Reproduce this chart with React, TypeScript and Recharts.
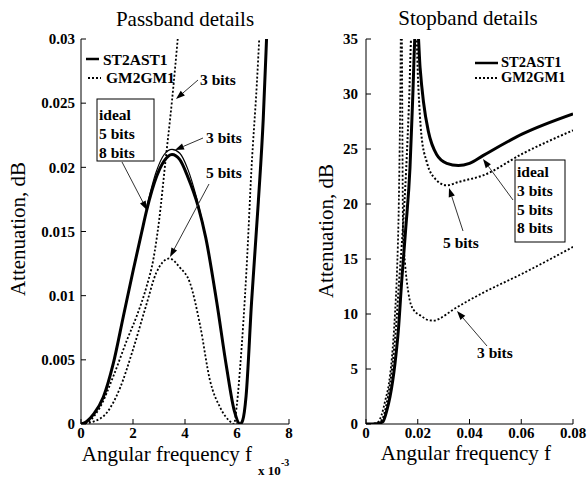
import { LineChart, Line, XAxis, YAxis } from 'recharts'

// each row is [angular frequency, attenuation dB]
// passband: frequency in units of 1e-3
const passIdeal = [
  [0, 0], [0.22, 0.0002], [0.5, 0.0008], [0.86, 0.0021], [1.24, 0.0047], [1.63, 0.0084],
  [2.01, 0.012], [2.33, 0.0149], [2.52, 0.0166], [2.91, 0.0193], [3.2, 0.0205], [3.5, 0.021],
  [3.8, 0.0206], [4.1, 0.0193], [4.5, 0.017], [4.8, 0.0145], [5.22, 0.0095], [5.6, 0.0044],
  [5.9, 0.001], [6.12, 0], [6.22, 0.0003], [6.35, 0.0022], [6.56, 0.0095], [6.82, 0.0173],
  [7.01, 0.0238], [7.14, 0.0302], [7.25, 0.036],
]
const passST3 = [
  [2.5, 0.0167], [2.9, 0.0197], [3.2, 0.021], [3.5, 0.0214], [3.8, 0.0211], [4.1, 0.0199],
  [4.45, 0.0176], [4.7, 0.0155],
]
const passGM3 = [
  [0, 0], [0.3, 0.0002], [0.73, 0.0013], [1.24, 0.0037], [1.76, 0.0065], [2.14, 0.0084],
  [2.52, 0.0107], [2.78, 0.0128], [3.0, 0.0158], [3.25, 0.0205], [3.5, 0.0252], [3.72, 0.03],
  [3.85, 0.033],
]
const passGM5 = [
  [0, 0], [0.5, 0.0002], [1.0, 0.0009], [1.5, 0.0028], [2.0, 0.0058], [2.5, 0.0092],
  [2.9, 0.0118], [3.4, 0.0129], [3.8, 0.0122], [4.19, 0.011], [4.58, 0.0077], [4.96, 0.0034],
  [5.35, 0.0013], [5.73, 0.0002], [5.88, 0], [6.0, 0.0016], [6.12, 0.0044], [6.37, 0.0122],
  [6.56, 0.02], [6.76, 0.0264], [6.88, 0.031],
]

// stopband: frequency as is
const stopST = [
  [0, 0], [0.004, 0.02], [0.0065, 0.2], [0.008, 1.2], [0.0093, 2.5], [0.0112, 5.5],
  [0.0125, 8.5], [0.0138, 13], [0.0153, 17.6], [0.017, 23.3], [0.018, 29.3], [0.0192, 36],
  [0.0199, 36], [0.0209, 32.4], [0.0222, 29.3], [0.0241, 26.6], [0.0273, 24.5], [0.0312, 23.7],
  [0.0357, 23.5], [0.04, 23.7], [0.0452, 24.4], [0.0607, 26.4], [0.08, 28.2],
]
const stopGM = [
  [0, 0], [0.004, 0.02], [0.0055, 0.15], [0.0085, 2.5], [0.0103, 5.5], [0.0115, 8.5],
  [0.0128, 13], [0.0142, 17.6], [0.0155, 23], [0.0166, 29], [0.0177, 36], [0.0193, 36],
  [0.0202, 30.8], [0.0214, 26.3], [0.0235, 23.8], [0.0267, 22.3], [0.0312, 21.7], [0.0357, 22.0],
  [0.0452, 22.6], [0.0607, 24.6], [0.08, 26.7],
]
const stopGM3 = [
  [0, 0], [0.003, 0.02], [0.0045, 0.15], [0.006, 0.8], [0.0075, 2.2], [0.0088, 3.6],
  [0.01, 6], [0.0112, 10], [0.012, 14], [0.0126, 19], [0.013, 25], [0.0133, 31], [0.0135, 36],
  [0.0138, 36], [0.0141, 25], [0.0143, 17.6], [0.0151, 14.6], [0.0164, 11.9], [0.0183, 10.4],
  [0.0215, 9.8], [0.024, 9.45], [0.0265, 9.4], [0.0286, 9.6], [0.0337, 10.4], [0.045, 11.9],
  [0.0607, 13.7], [0.08, 16.1],
]

const passXTicks = [0, 2, 4, 6, 8]
const passYTicks = [0, 0.005, 0.01, 0.015, 0.02, 0.025, 0.03]
const stopXTicks = [0, 0.02, 0.04, 0.06, 0.08]
const stopYTicks = [0, 5, 10, 15, 20, 25, 30, 35]

const FONT = "'Liberation Serif', 'DejaVu Serif', serif"
const tickStyle = { style: { fontFamily: FONT }, fontSize: 15, fontWeight: 700, fill: '#000' }

const toPts = (rows: number[][]) => rows.map(([f, v]) => ({ f, v }))

type SeriesDef = { data: number[][]; width: number; dash?: string }

function Panel({ left, width, margin, xTicks, yTicks, yMargin, series }: {
  left: number
  width: number
  margin: { top: number; right: number; bottom: number; left: number }
  xTicks: number[]
  yTicks: number[]
  yMargin: number
  series: SeriesDef[]
}) {
  const xDomain: [number, number] = [xTicks[0], xTicks[xTicks.length - 1]]
  const yDomain: [number, number] = [yTicks[0], yTicks[yTicks.length - 1]]
  return (
    <div style={{ position: 'absolute', left, top: 0, fontFamily: FONT }}>
      <LineChart width={width} height={477} margin={margin} style={{ fontFamily: FONT }}>
        <XAxis dataKey="f" type="number" domain={xDomain} ticks={xTicks} allowDataOverflow
          height={30} tickSize={-5} tickMargin={8} stroke="#000" tick={tickStyle} interval={0} />
        <XAxis xAxisId="top" orientation="top" dataKey="f" type="number" domain={xDomain}
          ticks={xTicks} height={0} tickSize={-5} tick={false} stroke="#000" />
        <YAxis type="number" domain={yDomain} ticks={yTicks} allowDataOverflow width={60}
          tickSize={-5} tickMargin={yMargin} stroke="#000" tick={tickStyle} interval={0} />
        <YAxis yAxisId="right" orientation="right" type="number" domain={yDomain} ticks={yTicks}
          width={0} tickSize={-5} tick={false} stroke="#000" />
        {series.map((s, i) => (
          <Line key={i} data={toPts(s.data)} dataKey="v" type="monotone" stroke="#000"
            strokeWidth={s.width} strokeDasharray={s.dash} dot={false} activeDot={false}
            isAnimationActive={false} />
        ))}
      </LineChart>
    </div>
  )
}

function Arrow({ x1, y1, x2, y2 }: { x1: number; y1: number; x2: number; y2: number }) {
  const a = Math.atan2(y2 - y1, x2 - x1)
  const len = 9
  const hw = 3.2
  const bx = x2 - len * Math.cos(a)
  const by = y2 - len * Math.sin(a)
  const px = -Math.sin(a) * hw
  const py = Math.cos(a) * hw
  return (
    <g>
      <line x1={x1} y1={y1} x2={bx} y2={by} stroke="#333" strokeWidth={1} />
      <polygon points={`${x2},${y2} ${bx + px},${by + py} ${bx - px},${by - py}`} fill="#000" />
    </g>
  )
}

const ann = { fontSize: 15.5, fontWeight: 700, fill: '#000' }
const big = { fontSize: 21, fill: '#000' }

function Overlay() {
  return (
    <svg width={587} height={477}
      style={{ position: 'absolute', left: 0, top: 0, pointerEvents: 'none', fontFamily: FONT }}>
      <text x={185} y={26} textAnchor="middle" {...big}>Passband details</text>
      <text x={468} y={25} textAnchor="middle" {...big}>Stopband details</text>
      <text x={167} y={461} textAnchor="middle" {...big}>Angular frequency f</text>
      <text x={258} y={475} {...ann} fontSize={13}>x 10</text>
      <text x={281} y={466} {...ann} fontSize={10}>-3</text>
      <text x={466} y={460} textAnchor="middle" {...big}>Angular frequency f</text>
      <text transform="translate(25,229) rotate(-90)" textAnchor="middle" {...big}>Attenuation, dB</text>
      <text transform="translate(333,231) rotate(-90)" textAnchor="middle" {...big}>Attenuation, dB</text>

      {/* passband legend */}
      <line x1={86} y1={59} x2={99} y2={59} stroke="#000" strokeWidth={2.5} />
      <text x={103} y={65} {...ann}>ST2AST1</text>
      <line x1={88} y1={78} x2={101} y2={78} stroke="#000" strokeWidth={1.8} strokeDasharray="2 2" />
      <text x={106} y={83} {...ann}>GM2GM1</text>

      <rect x={97} y={99} width={57} height={62} fill="none" stroke="#000" strokeWidth={1} />
      <text x={99} y={120} {...ann}>ideal</text>
      <text x={99} y={139} {...ann}>5 bits</text>
      <text x={99} y={158} {...ann}>8 bits</text>
      <Arrow x1={122} y1={162} x2={147} y2={210} />

      <text x={200} y={85} {...ann}>3 bits</text>
      <Arrow x1={198} y1={80} x2={176} y2={99} />
      <text x={206} y={143} {...ann}>3 bits</text>
      <Arrow x1={203} y1={138} x2={175} y2={150} />
      <text x={206} y={178} {...ann}>5 bits</text>
      <Arrow x1={209} y1={184} x2={170} y2={257} />

      {/* stopband legend */}
      <line x1={475} y1={63} x2={498} y2={63} stroke="#000" strokeWidth={2.5} />
      <text x={501} y={67} {...ann} fontSize={14.5}>ST2AST1</text>
      <line x1={475} y1={78} x2={498} y2={78} stroke="#000" strokeWidth={1.8} strokeDasharray="2 2" />
      <text x={501} y={82} {...ann} fontSize={14.5}>GM2GM1</text>

      <rect x={515} y={160} width={50} height={82} fill="none" stroke="#000" strokeWidth={1} />
      <text x={517} y={177} {...ann}>ideal</text>
      <text x={517} y={196} {...ann}>3 bits</text>
      <text x={517} y={215} {...ann}>5 bits</text>
      <text x={517} y={233} {...ann}>8 bits</text>
      <Arrow x1={513} y1={200} x2={483} y2={159} />

      <text x={443} y={248} {...ann}>5 bits</text>
      <Arrow x1={463} y1={231} x2={449} y2={188} />
      <text x={477} y={358} {...ann}>3 bits</text>
      <Arrow x1={487} y1={346} x2={457} y2={311} />
    </svg>
  )
}

export default function App() {
  return (
    <div style={{ position: 'absolute', left: 0, top: 0, width: 587, height: 477, background: '#fff' }}>
      <Panel left={0} width={300} margin={{ top: 39, right: 11, bottom: 23, left: 21 }}
        xTicks={passXTicks} yTicks={passYTicks} yMargin={11}
        series={[
          { data: passGM5, width: 1.8, dash: '2 2' },
          { data: passGM3, width: 1.8, dash: '2 2' },
          { data: passST3, width: 1.2 },
          { data: passIdeal, width: 3 },
        ]} />
      <Panel left={290} width={297} margin={{ top: 39, right: 14, bottom: 23, left: 16 }}
        xTicks={stopXTicks} yTicks={stopYTicks} yMargin={13}
        series={[
          { data: stopGM3, width: 1.8, dash: '2 2' },
          { data: stopGM, width: 2, dash: '2 2' },
          { data: stopST, width: 3 },
        ]} />
      <Overlay />
    </div>
  )
}
